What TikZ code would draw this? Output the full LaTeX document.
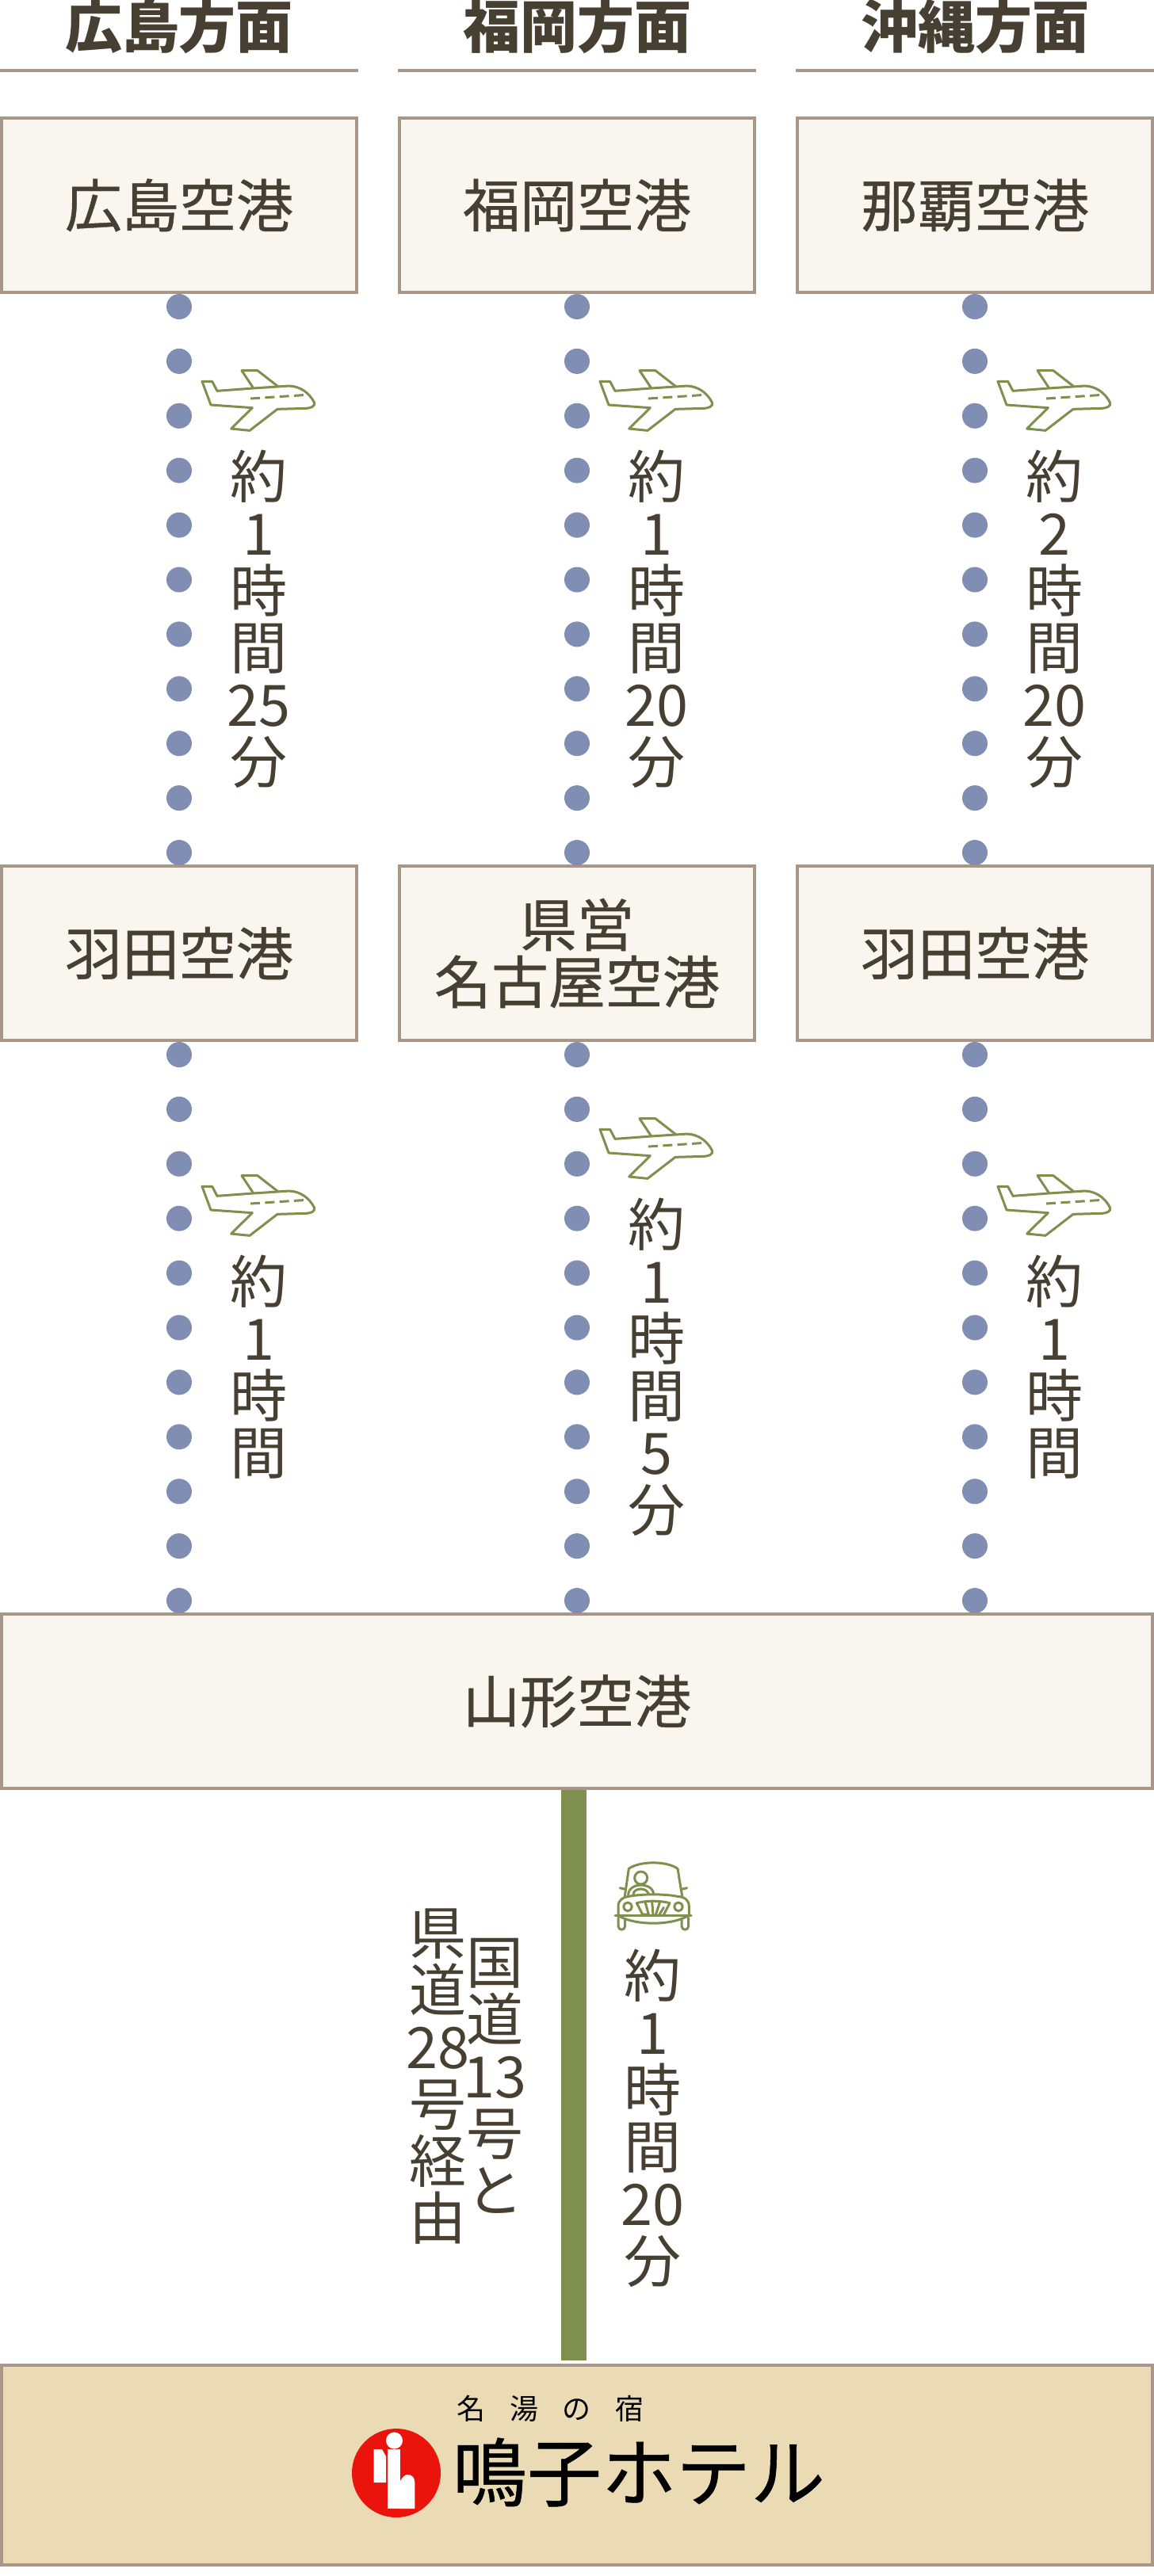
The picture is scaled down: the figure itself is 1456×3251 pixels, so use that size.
\documentclass[tikz,border=0pt]{standalone}
\usepackage{fontspec}
\setmainfont{Noto Sans CJK JP}
\newfontfamily\medfont[FakeBold=0.6]{Noto Sans CJK JP}
\definecolor{ink}{HTML}{473F32}
\definecolor{boxfill}{HTML}{F9F5EF}
\definecolor{boxline}{HTML}{A89689}
\definecolor{dotblue}{HTML}{818EB3}
\definecolor{olive}{HTML}{7F8F4D}
\definecolor{hotelfill}{HTML}{EADBB4}
\definecolor{logored}{HTML}{EB140C}
\tikzset{
  x=0.5pt,y=-0.5pt,
  head/.style={font=\fontsize{36}{36}\selectfont\bfseries,text=ink,inner sep=0pt,anchor=center},
  hrule/.style={draw=boxline,line width=2pt},
  port/.style={draw=boxline,line width=2pt,fill=boxfill,minimum width=224pt,minimum height=110pt,
    inner sep=0pt,text=ink,align=center,font=\fontsize{36}{36}\medfont\selectfont,
    execute at begin node={\lineskiplimit=-100pt}},
  wideport/.style={port,minimum width=726pt},
  dots/.style={dotblue,line width=16pt,line cap=round,dash pattern=on 0pt off 34.45pt,dash phase=26.45pt},
  road/.style={olive,line width=16pt,shorten >=2pt},
  stack/.style={text=ink,align=center,inner sep=0pt,font=\fontsize{36}{36}\selectfont,
    execute at begin node={\lineskiplimit=-100pt}},
  icon/.style={draw=olive,line width=1.5pt,line join=round,line cap=round},
  planeicon/.pic={
    \begin{scope}[x=0.16667pt,y=-0.16667pt,shift={(-288,-198)}]
      \draw[icon] (75,124) -- (113,124) -- (132,160) -- (268,150) -- (405,141)
        .. controls (445,143) and (480,165) .. (500,205)
        .. controls (502,218) and (490,224) .. (470,226)
        -- (360,229) -- (255,310) -- (185,303) -- (265,224) -- (108,213) -- cycle;
      \draw[icon] (268,148) -- (225,83) -- (285,83) -- (362,143);
      \draw[icon,line cap=butt,dash pattern=on 6pt off 3.2pt] (258,189) -- (470,175);
    \end{scope}},
  caricon/.pic={
    \begin{scope}[x=0.16667pt,y=-0.16667pt,shift={(-222,-222)}]
      \draw[icon] (115,218) -- (130,115) .. controls (170,85) and (275,85) .. (315,115) -- (332,218);
      \draw[icon] (97,188) -- (118,193) (329,193) -- (350,188);
      \draw[icon] (90,292) -- (90,258) .. controls (90,232) and (110,222) .. (130,220)
        .. controls (180,210) and (265,210) .. (315,220)
        .. controls (340,222) and (358,232) .. (358,258) -- (358,292);
      \draw[icon] (78,292) -- (366,292);
      \draw[icon] (96,296) .. controls (160,330) and (285,330) .. (350,296);
      \draw[icon] (90,300) -- (90,333) .. controls (92,350) and (114,350) .. (116,333) -- (116,308);
      \draw[icon] (330,308) -- (330,333) .. controls (332,350) and (354,350) .. (356,333) -- (356,300);
      \draw[icon] (126,259) circle[radius=16];
      \draw[icon] (318,259) circle[radius=16];
      \draw[icon] (160,245) .. controls (200,235) and (245,235) .. (285,245) -- (262,290);
      \draw[icon] (160,245) -- (182,288) -- (205,288) -- (192,240);
      \draw[icon] (218,238) -- (222,290);
      \draw[icon] (232,290) -- (248,240);
      \draw[icon] (245,290) -- (262,262);
      \draw[icon] (176,150) circle[radius=24];
      \draw[icon] (128,215) .. controls (128,165) and (222,165) .. (224,212);
      \draw[icon] (147,212) .. controls (150,185) and (200,185) .. (205,212);
    \end{scope}},
}
\begin{document}
\begin{tikzpicture}[x=0.5pt,y=-0.5pt]
\useasboundingbox (0,0) rectangle (1456,3251);
% headers
\node[head] (h1) at (226,33) {広島方面};
\node[head] (h2) at (728,33) {福岡方面};
\node[head] (h3) at (1230,33) {沖縄方面};
\draw[hrule] (0,89) -- (452,89);
\draw[hrule] (502,89) -- (954,89);
\draw[hrule] (1004,89) -- (1456,89);
\node[port] (a1) at (226,259) {広島空港};
\node[port] (a2) at (728,259) {福岡空港};
\node[port] (a3) at (1230,259) {那覇空港};
\node[port] (b1) at (226,1203) {羽田空港};
\node[port] (b2) at (728,1203) {県営\\名古屋空港};
\node[port] (b3) at (1230,1203) {羽田空港};
\node[wideport] (y) at (728,2147) {山形空港};
\node[draw=boxline,line width=2pt,fill=hotelfill,minimum width=726pt,minimum height=126pt,inner sep=0pt] (hotel) at (728,3111) {};
\draw[dots] (a1.south) -- (b1.north);
\draw[dots] (a2.south) -- (b2.north);
\draw[dots] (a3.south) -- (b3.north);
\draw[dots] (b1.south) -- (b1.south |- y.north);
\draw[dots] (b2.south) -- (y.north);
\draw[dots] (b3.south) -- (b3.south |- y.north);
\draw[road] ([xshift=-2pt]y.south) -- ([xshift=-2pt]hotel.north);
% planes and times
\pic at (326,506) {planeicon};
\pic at (828,506) {planeicon};
\pic at (1330,506) {planeicon};
\pic at (326,1522) {planeicon};
\pic at (828,1450) {planeicon};
\pic at (1330,1522) {planeicon};
\node[stack] (t1) at (326,781) {約\\1\\時\\間\\25\\分};
\node[stack] (t2) at (828,781) {約\\1\\時\\間\\20\\分};
\node[stack] (t3) at (1330,781) {約\\2\\時\\間\\20\\分};
\node[stack] (t4) at (326,1725) {約\\1\\時\\間};
\node[stack] (t5) at (828,1725) {約\\1\\時\\間\\5\\分};
\node[stack] (t6) at (1330,1725) {約\\1\\時\\間};
% road
\pic at (824,2394) {caricon};
\node[stack] (t7) at (823,2673) {約\\1\\時\\間\\20\\分};
\node[stack] (r1) at (624,2620) {国\\道\\13\\号\\と};
\node[stack] (r2) at (552,2621) {県\\道\\28\\号\\経\\由};
% hotel logo
\node[inner sep=0pt,text=black,font=\fontsize{18}{18}\selectfont] (l1) at (694.5,3040) {名\hspace{15.2pt}湯\hspace{15.2pt}の\hspace{15.2pt}宿};
\node[inner sep=0pt,text=black,font=\fontsize{47}{47}\medfont\selectfont] (l2) at (806,3120) {鳴子ホテル};
\fill[logored] (500,3121) circle[radius=56];
\fill[white] (497.5,3080) circle[radius=10.5];
\fill[white] (471.5,3091) -- (482,3091) -- (487,3100) -- (487,3133) -- (471.5,3133) -- cycle;
\fill[white] (489,3091) rectangle (505,3166);
\fill[white] (505,3131) .. controls (508,3126) and (511,3123) .. (514,3123) .. controls (520,3123) and (523.3,3127) .. (523.3,3133) -- (523.3,3166) -- (505,3166) -- cycle;
\end{tikzpicture}
\end{document}
